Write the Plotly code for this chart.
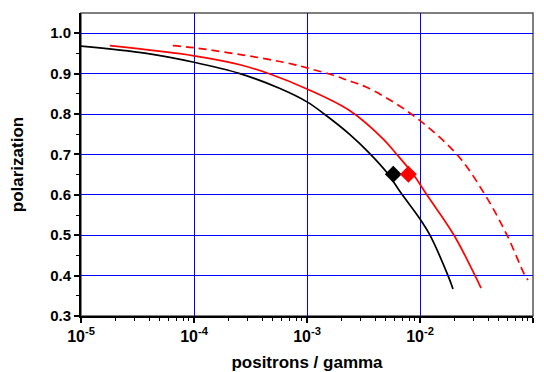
import plotly.graph_objects as go

# Black curve
black_x = [1e-5, 3.8e-5, 1e-4, 2.55e-4, 5.77e-4, 1.0e-3, 1.42e-3, 2.4e-3, 3.6e-3, 5.2e-3, 6.65e-3, 1.0e-2, 1.225e-2, 1.77e-2, 1.96e-2]
black_y = [0.968, 0.950, 0.928, 0.900, 0.863, 0.830, 0.800, 0.749, 0.702, 0.652, 0.608, 0.540, 0.500, 0.400, 0.367]

# Red solid curve
red_x = [1.8e-5, 1e-4, 2.55e-4, 4.7e-4, 1.0e-3, 2.4e-3, 4.73e-3, 6.1e-3, 8.7e-3, 1.15e-2, 2.0e-2, 3.07e-2, 3.47e-2]
red_y = [0.969, 0.944, 0.922, 0.899, 0.862, 0.808, 0.738, 0.703, 0.651, 0.600, 0.500, 0.400, 0.369]

# Red dashed curve
dash_x = [6.5e-5, 1e-4, 3.84e-4, 7.57e-4, 1.0e-3, 1.71e-3, 2.25e-3, 3.37e-3, 8.17e-3, 2.12e-2, 3.76e-2, 5.89e-2, 8.5e-2, 9.04e-2]
dash_y = [0.969, 0.964, 0.939, 0.923, 0.914, 0.896, 0.884, 0.866, 0.802, 0.700, 0.600, 0.500, 0.400, 0.389]

# Markers
black_pt_x = [5.8e-3]
black_pt_y = [0.651]
red_pt_x = [7.9e-3]
red_pt_y = [0.651]

x_tickvals = [1e-5, 1e-4, 1e-3, 1e-2, 1e-1]
x_ticktext = ["10<sup>-5</sup>", "10<sup>-4</sup>", "10<sup>-3</sup>", "10<sup>-2</sup>", "10<sup>-1</sup>"]
x_minor = [m * 10.0 ** e for e in range(-5, -1) for m in range(2, 10)]
y_tickvals = [0.3, 0.4, 0.5, 0.6, 0.7, 0.8, 0.9, 1.0]
y_ticktext = ["0.3", "0.4", "0.5", "0.6", "0.7", "0.8", "0.9", "1.0"]
y_minor = [0.35, 0.45, 0.55, 0.65, 0.75, 0.85, 0.95]

fig = go.Figure()
fig.add_trace(go.Scatter(x=black_x, y=black_y, mode="lines",
                         line=dict(color="black", width=1.7, shape="spline", smoothing=1.0)))
fig.add_trace(go.Scatter(x=red_x, y=red_y, mode="lines",
                         line=dict(color="#ff0000", width=1.7, shape="spline", smoothing=1.0)))
fig.add_trace(go.Scatter(x=dash_x, y=dash_y, mode="lines",
                         line=dict(color="#ff0000", width=1.7, dash="8px,5px", shape="spline", smoothing=1.0)))
fig.add_trace(go.Scatter(x=black_pt_x, y=black_pt_y, mode="markers",
                         marker=dict(symbol="diamond", size=13, color="black")))
fig.add_trace(go.Scatter(x=red_pt_x, y=red_pt_y, mode="markers",
                         marker=dict(symbol="diamond", size=13, color="#ff0000")))

font_family = "Liberation Sans, Arial, sans-serif"

fig.update_layout(
    width=544, height=372,
    margin=dict(l=81, r=11, t=13, b=56),
    paper_bgcolor="white", plot_bgcolor="white",
    showlegend=False,
    font=dict(family=font_family, color="black", size=15),
    shapes=[dict(type="rect", xref="paper", yref="paper", x0=0, x1=1, y0=0, y1=1,
                 line=dict(color="#555555", width=1.5), layer="below")],
)
fig.update_xaxes(
    type="log", range=[-5, -1], automargin=False,
    tickmode="array", tickvals=x_tickvals, ticktext=x_ticktext,
    ticks="outside", ticklen=5, tickwidth=1.5, tickcolor="black",
    showline=True, linecolor="black", linewidth=2,
    showgrid=True, gridcolor="#0000ff", gridwidth=1,
    zeroline=False,
    tickfont=dict(size=16, family=font_family, weight="bold", color="black"),
    minor=dict(tickmode="array", tickvals=x_minor, ticks="outside", ticklen=3,
               tickwidth=1.2, tickcolor="black", showgrid=False),
    title=dict(text="positrons / gamma", font=dict(size=17, family=font_family, weight="bold", color="black"), standoff=14),
)
fig.update_yaxes(
    range=[0.3, 1.05], automargin=False,
    tickmode="array", tickvals=y_tickvals, ticktext=y_ticktext,
    ticks="outside", ticklen=5, tickwidth=1.5, tickcolor="black",
    showline=True, linecolor="black", linewidth=2,
    showgrid=True, gridcolor="#0000ff", gridwidth=1,
    zeroline=False,
    tickfont=dict(size=15, family=font_family, weight="bold", color="black"),
    minor=dict(tickmode="array", tickvals=y_minor, ticks="outside", ticklen=3,
               tickwidth=1.2, tickcolor="black", showgrid=False),
    title=dict(text="polarization", font=dict(size=17, family=font_family, weight="bold", color="black"), standoff=22),
)

fig.write_html("out.html", config={"displayModeBar": False},
               post_script="document.body.style.margin='0';document.body.style.padding='0';document.body.style.overflow='hidden';")
